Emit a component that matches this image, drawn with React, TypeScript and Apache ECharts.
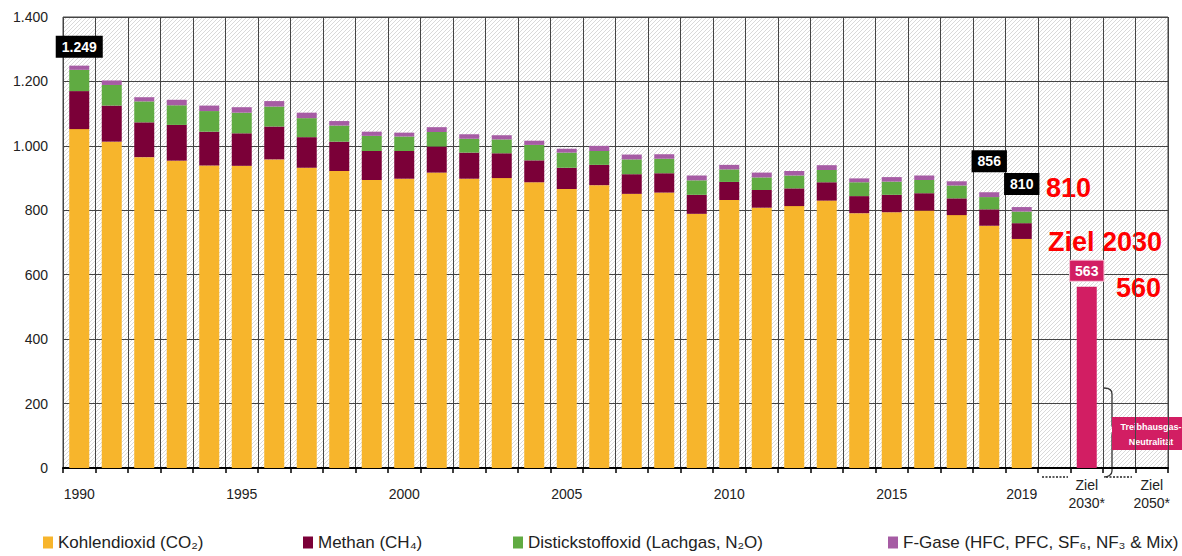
import React, { useEffect, useRef } from 'react';
import * as echarts from 'echarts';

const years = ['1990','1991','1992','1993','1994','1995','1996','1997','1998','1999','2000','2001','2002','2003','2004','2005','2006','2007','2008','2009','2010','2011','2012','2013','2014','2015','2016','2017','2018','2019'];
const extraCats = ['gap1', '2030', 'gap2', '2050'];

const co2 = [1052,1013,965,954,939,938,958,932,922,894,898,917,898,900,887,866,878,851,855,789,832,808,813,830,791,794,799,785,752,711];
const ch4 = [118,112,108,111,105,101,102,95,91,90,86,81,81,77,68,66,63,61,60,59,56,55,55,57,53,54,54,52,51,49];
const n2o = [66,64,65,61,64,64,62,59,50,47,45,45,43,43,48,47,43,46,45,45,39,39,40,38,43,41,41,40,38,36];
const fgas = [13,14,13,17,17,17,17,17,14,13,12,15,14,13,13,12,16,15,14,15,14,15,14,15,12,14,14,13,15,14];
const target2030 = 563;

const seriesNames = ['Kohlendioxid (CO₂)', 'Methan (CH₄)', 'Distickstoffoxid (Lachgas, N₂O)', 'F-Gase (HFC, PFC, SF₆, NF₃ & Mix)'];
const seriesColors = ['#F7B52C', '#7B0038', '#60AB42', '#A65CA4'];
const pink = '#D21E63';

const yearLabels = ['1990', '1995', '2000', '2005', '2010', '2015', '2019'];
const targetLabels: Record<string, string> = { '2030': 'Ziel\n2030*', '2050': 'Ziel\n2050*' };
const totalBoxYears = ['1990', '2018', '2019'];
const totalBoxDistance: Record<string, number> = { '1990': 8, '2018': 20, '2019': 12 };

const FONT = '"Liberation Sans", Arial, sans-serif';

function fmtDe(v: number): string {
  if (v >= 1000) return Math.floor(v / 1000) + '.' + String(v % 1000).padStart(3, '0');
  return String(v);
}

export default function App() {
  const ref = useRef<HTMLDivElement>(null);
  useEffect(() => {
    const chart = echarts.init(ref.current!, null, { renderer: 'svg' });

    const cv = document.createElement('canvas');
    cv.width = 4; cv.height = 4;
    const ctx = cv.getContext('2d')!;
    ctx.fillStyle = '#ffffff';
    ctx.fillRect(0, 0, 4, 4);
    ctx.strokeStyle = '#d9d9d9';
    ctx.lineWidth = 1;
    [[-1, 1, 1, -1], [-1, 5, 5, -1], [3, 5, 5, 3]].forEach(([a, b, c, d]) => {
      ctx.beginPath(); ctx.moveTo(a, b); ctx.lineTo(c, d); ctx.stroke();
    });

    const cats = years.concat(extraCats);
    const pad = (arr: number[]) => arr.concat(extraCats.map(() => null as any));
    const totals = years.map((_, i) => co2[i] + ch4[i] + n2o[i] + fgas[i]);

    const braceD = 'M0,0 C4,0 8,1 8,6 L8,37 C8,40 10,42 13,42 C10,42 8,44 8,47 L8,83 C8,87 4,89 0,89';
    echarts.graphic.registerShape('brace', echarts.graphic.extendPath(braceD, {}) as any);

    const comps = [co2, ch4, n2o, fgas];
    const series: any[] = comps.map((arr, k) => {
      const s: any = {
        name: seriesNames[k],
        type: 'bar',
        stack: 'total',
        barWidth: 20,
        itemStyle: { color: seriesColors[k] },
        data: pad(arr),
      };
      if (k === 3) {
        s.label = {
          show: false,
          position: 'top',
          formatter: (p: any) => fmtDe(totals[p.dataIndex]),
          backgroundColor: '#000',
          color: '#fff',
          fontWeight: 'bold',
          fontSize: 14,
          fontFamily: FONT,
          lineHeight: 14,
          padding: [4, 6],
        };
        s.data = pad(arr).map((v: any, i: number) =>
          totalBoxYears.includes(cats[i])
            ? { value: v, label: { show: true, distance: totalBoxDistance[cats[i]] } }
            : v
        );
      }
      return s;
    });
    series.push({
      name: 'Ziel 2030',
      type: 'bar',
      stack: 'total',
      barWidth: 20,
      itemStyle: { color: pink },
      label: {
        show: false,
        position: 'top',
        distance: 6,
        backgroundColor: pink,
        borderColor: '#F4BCCF',
        borderWidth: 1,
        color: '#fff',
        fontWeight: 'bold',
        fontSize: 14,
        fontFamily: FONT,
        lineHeight: 14,
        padding: [3, 5],
      },
      data: cats.map((c) => (c === '2030' ? { value: target2030, label: { show: true } } : null)),
    });

    const legendLeft = [43, 303, 513, 888];

    chart.setOption({
      animation: false,
      textStyle: { fontFamily: FONT },
      grid: {
        left: 63, right: 14, top: 17, bottom: 88,
        show: true,
        borderColor: '#444',
        borderWidth: 1,
        backgroundColor: { image: cv, repeat: 'repeat', imageWidth: 4, imageHeight: 4 } as any,
      },
      legend: seriesNames.map((n, i) => ({
        data: [n],
        left: legendLeft[i],
        top: 533,
        padding: 0,
        icon: 'rect',
        itemWidth: 10,
        itemHeight: 12,
        selectedMode: false,
        textStyle: { fontSize: 17, lineHeight: 19, color: '#222', fontFamily: FONT },
      })),
      xAxis: {
        type: 'category',
        data: cats,
        axisLine: { show: true, lineStyle: { color: '#000', width: 2 } },
        axisTick: { show: true, interval: 0, length: 5, lineStyle: { color: '#000', width: 1.5 } },
        splitLine: { show: true, interval: 0, lineStyle: { color: '#444', width: 1 } },
        axisLabel: {
          interval: 0,
          margin: 26,
          verticalAlign: 'middle',
          lineHeight: 18,
          fontSize: 14,
          color: '#222',
          fontFamily: FONT,
          formatter: (v: string) => (yearLabels.includes(v) ? v : targetLabels[v] || ''),
        },
      },
      yAxis: {
        type: 'value',
        min: 0,
        max: 1400,
        interval: 200,
        axisLine: { show: false },
        axisTick: { show: false },
        splitLine: { show: true, lineStyle: { color: '#444', width: 1 } },
        axisLabel: { margin: 15, fontSize: 14, color: '#222', fontFamily: FONT, formatter: (v: number) => fmtDe(v) },
      },
      series,
      graphic: [
        { type: 'text', x: 1046, y: 188, style: { text: '810', fill: '#FF0000', font: 'bold 27px ' + FONT, verticalAlign: 'middle', align: 'left' } },
        { type: 'text', x: 1048, y: 242, style: { text: 'Ziel 2030', fill: '#FF0000', font: 'bold 27px ' + FONT, verticalAlign: 'middle', align: 'left' } },
        { type: 'text', x: 1116, y: 288, style: { text: '560', fill: '#FF0000', font: 'bold 27px ' + FONT, verticalAlign: 'middle', align: 'left' } },
        { type: 'line', shape: { x1: 1042, y1: 477, x2: 1068, y2: 477 }, style: { stroke: '#222', lineWidth: 1.5, lineDash: [2, 1.5] } },
        { type: 'line', shape: { x1: 1106, y1: 477, x2: 1132, y2: 477 }, style: { stroke: '#222', lineWidth: 1.5, lineDash: [2, 1.5] } },
        { type: 'brace', x: 1104, y: 388, style: { stroke: '#333', lineWidth: 1.3, fill: 'none' } },
        { type: 'rect', shape: { x: 1112, y: 417, width: 75, height: 33 }, style: { fill: pink } },
        { type: 'text', x: 1151, y: 427, style: { text: 'Treibhausgas-', fill: '#fff', font: 'bold 9px ' + FONT, verticalAlign: 'middle', align: 'center' } },
        { type: 'text', x: 1151, y: 442, style: { text: 'Neutralität', fill: '#fff', font: 'bold 9px ' + FONT, verticalAlign: 'middle', align: 'center' } },
      ],
    });

    return () => chart.dispose();
  }, []);
  return <div ref={ref} style={{ position: 'absolute', left: 0, top: 0, width: 1182, height: 556 }} />;
}
